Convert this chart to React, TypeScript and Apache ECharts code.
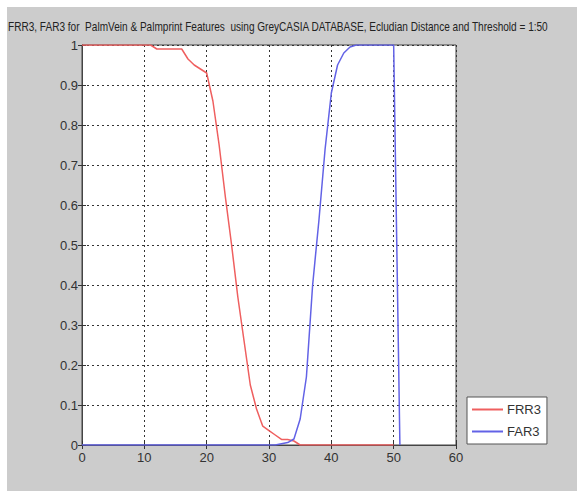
import React, { useEffect, useRef } from "react";
import * as echarts from "echarts";

const titleText =
  "FRR3, FAR3 for  PalmVein & Palmprint Features  using GreyCASIA DATABASE, Ecludian Distance and Threshold = 1:50";

const seriesNames = ["FRR3", "FAR3"];

// FRR3 sampled at x = 0..50
const frrValues = [
  1, 1, 1, 1, 1, 1, 1, 1, 1, 1, 1, 1,
  0.99, 0.99, 0.99, 0.99, 0.99,
  0.965, 0.95, 0.94, 0.93, 0.86, 0.75, 0.62, 0.5, 0.37, 0.26, 0.15, 0.09, 0.047,
  0.036, 0.025, 0.014, 0.014, 0.01,
  0, 0, 0, 0, 0, 0, 0, 0, 0, 0, 0, 0, 0, 0, 0, 0,
];

// FAR3 sampled at x = 0..51
const farValues = [
  0, 0, 0, 0, 0, 0, 0, 0, 0, 0, 0, 0, 0, 0, 0, 0,
  0, 0, 0, 0, 0, 0, 0, 0, 0, 0, 0, 0, 0, 0, 0, 0,
  0.003, 0.006, 0.015, 0.065, 0.17, 0.4, 0.56, 0.74, 0.88, 0.95, 0.98, 0.995,
  1, 1, 1, 1, 1, 1, 1,
  0,
];

const xTickLabels = ["0", "10", "20", "30", "40", "50", "60"];
const yTickLabels = ["0", "0.1", "0.2", "0.3", "0.4", "0.5", "0.6", "0.7", "0.8", "0.9", "1"];

const FONT = '"Liberation Sans", Arial, sans-serif';
const RED = "#ef5f5f";
const BLUE = "#6262e6";

export default function App() {
  const ref = useRef<HTMLDivElement>(null);

  useEffect(() => {
    if (!ref.current) return;
    const chart = echarts.init(ref.current, undefined, { renderer: "svg" });

    const axisLine = { show: true, lineStyle: { color: "#444", width: 1 } };
    const gridLine = { show: true, lineStyle: { color: "#333", width: 1, type: [2, 3] as any } };
    const tick = { show: true, inside: true, length: 4, lineStyle: { color: "#333" } };

    const xLabel = (v: number) => xTickLabels[Math.round(v / 10)] ?? "";
    const yLabel = (v: number) => yTickLabels[Math.round(v * 10)] ?? "";

    chart.setOption({
      animation: false,
      backgroundColor: "#cccccc",
      graphic: [
        {
          type: "text",
          x: 1,
          y: 19,
          scaleX: 0.775,
          style: {
            text: titleText,
            font: `normal 13px ${FONT}`,
            fill: "#222",
            textVerticalAlign: "middle",
          },
        },
      ],
      legend: {
        data: seriesNames,
        orient: "vertical",
        left: 460,
        top: 390,
        icon: "rect",
        itemWidth: 31,
        itemHeight: 2,
        itemGap: 9,
        padding: [6, 6, 6, 5],
        backgroundColor: "#ffffff",
        borderColor: "#555",
        borderWidth: 1,
        borderRadius: 0,
        textStyle: { fontFamily: FONT, fontSize: 13, color: "#333", padding: [0, 0, 0, -1] },
      },
      grid: {
        left: 75,
        top: 38,
        width: 374,
        height: 400,
        show: true,
        backgroundColor: "#ffffff",
        borderColor: "#444",
        borderWidth: 1,
      },
      xAxis: [
        {
          type: "value",
          min: 0,
          max: 60,
          interval: 10,
          axisLine,
          axisTick: tick,
          splitLine: gridLine,
          axisLabel: { formatter: xLabel, fontFamily: FONT, fontSize: 13, color: "#333", margin: 6 },
        },
        {
          type: "value",
          position: "top",
          min: 0,
          max: 60,
          interval: 10,
          axisLine,
          axisTick: tick,
          splitLine: { show: false },
          axisLabel: { show: false },
        },
      ],
      yAxis: [
        {
          type: "value",
          min: 0,
          max: 1,
          interval: 0.1,
          axisLine,
          axisTick: tick,
          splitLine: gridLine,
          axisLabel: { formatter: yLabel, fontFamily: FONT, fontSize: 13, color: "#333", margin: 4 },
        },
        {
          type: "value",
          position: "right",
          min: 0,
          max: 1,
          interval: 0.1,
          axisLine,
          axisTick: tick,
          splitLine: { show: false },
          axisLabel: { show: false },
        },
      ],
      series: [
        {
          name: seriesNames[0],
          type: "line",
          showSymbol: false,
          color: RED,
          lineStyle: { color: RED, width: 1.5 },
          data: frrValues.map((v, i) => [i, v]),
        },
        {
          name: seriesNames[1],
          type: "line",
          showSymbol: false,
          color: BLUE,
          lineStyle: { color: BLUE, width: 1.5 },
          data: farValues.map((v, i) => [i, v]),
        },
      ],
    });

    return () => chart.dispose();
  }, []);

  return (
    <div
      ref={ref}
      style={{ position: "fixed", left: 7, top: 7, width: 570, height: 484 }}
    />
  );
}
